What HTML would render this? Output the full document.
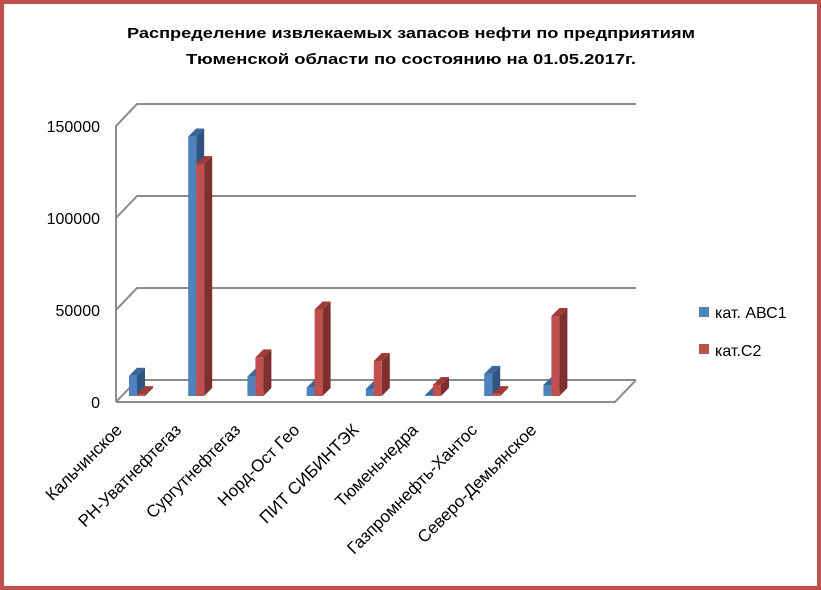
<!DOCTYPE html>
<html><head><meta charset="utf-8"><style>
body{margin:0;background:#fff}
svg{display:block;font-family:"Liberation Sans",sans-serif}
</style></head><body>
<svg id="chart" width="821" height="590">
<rect x="2" y="2" width="817" height="586" fill="#fff" stroke="#c0504d" stroke-width="4"/>
<text x="411" y="38" text-anchor="middle" font-size="15" font-weight="bold" textLength="568" lengthAdjust="spacingAndGlyphs">Распределение извлекаемых запасов нефти по предприятиям</text>
<text x="411" y="64" text-anchor="middle" font-size="15" font-weight="bold" textLength="450" lengthAdjust="spacingAndGlyphs">Тюменской области по состоянию на 01.05.2017г.</text>
<g id="grid"></g>
<g id="bars"></g>
<g id="labels"></g>
<g>
<rect x="699" y="307" width="10" height="10" fill="#4f81bd"/>
<text x="715" y="318" font-size="16">кат. АВС1</text>
<rect x="699" y="344" width="10" height="10" fill="#c0504d"/>
<text x="715" y="356" font-size="16">кат.С2</text>
</g>
</svg>
<script>
const categories=["Кальчинское","РН-Уватнефтегаз","Сургутнефтегаз","Норд-Ост Гео","ПИТ СИБИНТЭК","Тюменьнедра","Газпромнефть-Хантос","Северо-Демьянское"];
const seriesABC1=[11000,141000,10500,4500,3800,500,12000,6000];
const seriesC2=[1000,126000,21000,47000,19000,6000,1000,43500];
const tickValues=[0,50000,100000,150000];
const tickLabels=["0","50000","100000","150000"];
const NS="http://www.w3.org/2000/svg";
const frontX=116,frontY=402,DX=21,DY=-22,backRight=636,frontRight=615;
const pxPerUnit=92/50000;
function y(v){return frontY-v*pxPerUnit;}
function xCat(i){return 129+i*59.2;}
function mk(t,a,p){const e=document.createElementNS(NS,t);for(const k in a)e.setAttribute(k,a[k]);p.appendChild(e);return e;}
const grid=document.getElementById('grid');
tickValues.forEach((v,i)=>{
 const fy=y(v);
 const g=mk('polyline',{points:`${frontX},${fy} ${frontX+DX},${fy+DY} ${backRight},${fy+DY}`,fill:'none',stroke:'#8c8c8c','stroke-width':2},grid);
 
 
 const t=mk('text',{x:100,y:fy+6,'text-anchor':'end','font-size':16},grid);
 t.textContent=tickLabels[i];
 
 
});
const ax=mk('line',{x1:frontX,y1:y(0),x2:frontX,y2:y(150000),stroke:'#8c8c8c','stroke-width':2},grid);


const fl=mk('polyline',{points:`${frontX},${frontY} ${frontRight},${frontY} ${backRight},${frontY+DY}`,fill:'none',stroke:'#8c8c8c','stroke-width':2},grid);


const bars=document.getElementById('bars');
const bw=8,dd=8,base=396;
function bar(x,v,front,side,top,name){
 const h=v*pxPerUnit, ty=base-h;
 const g=mk('g',{},bars);
 
 
 mk('polygon',{points:`${x+bw},${base} ${x+bw+dd},${base-dd} ${x+bw+dd},${ty-dd} ${x+bw},${ty}`,fill:side},g);
 mk('polygon',{points:`${x},${ty} ${x+dd},${ty-dd} ${x+bw+dd},${ty-dd} ${x+bw},${ty}`,fill:top},g);
 mk('rect',{x:x,y:ty,width:bw,height:h,fill:front},g);
}
categories.forEach((c,i)=>{
 const x=xCat(i);
 bar(x,seriesABC1[i],'#4f81bd','#2f5480','#3a6699','bar-abc1-'+i);
 bar(x+bw,seriesC2[i],'#c0504d','#7f2f2d','#9e3b39','bar-c2-'+i);
 const lx=x+bw-14, ly=431;
 const t=mk('text',{x:lx,y:ly,'text-anchor':'end','font-size':17,transform:`rotate(-45 ${lx} ${ly})`},document.getElementById('labels'));
 t.textContent=c;
 
 
});
</script>
</body></html>
